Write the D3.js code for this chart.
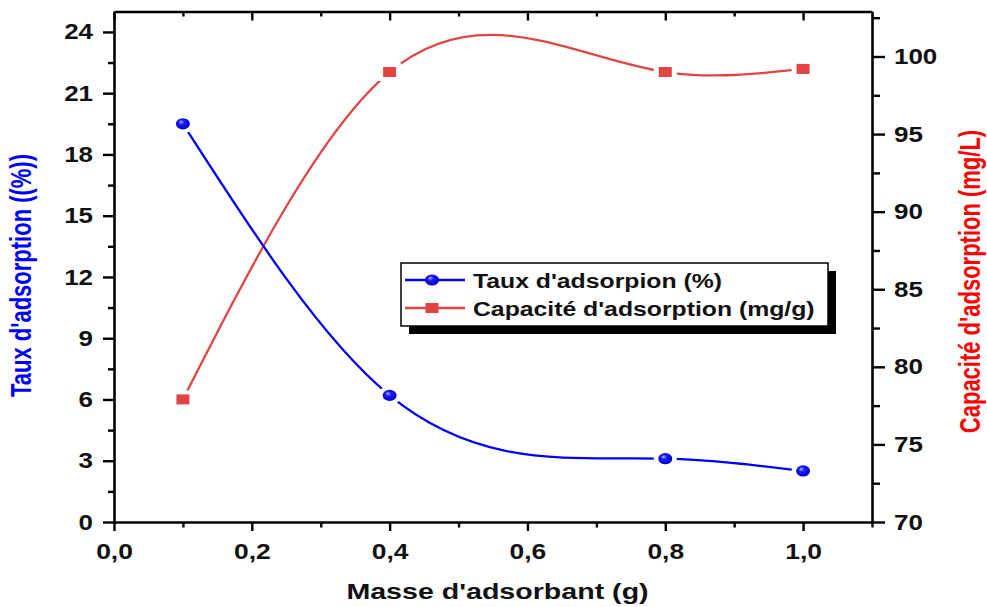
<!DOCTYPE html>
<html>
<head>
<meta charset="utf-8">
<script src="https://cdn.jsdelivr.net/npm/d3@7"></script>
<style>
  html, body { margin: 0; padding: 0; background: #fff; }
  svg { display: block; font-family: Arial, "Liberation Sans", sans-serif; font-weight: bold; }
</style>
</head>
<body>
<svg id="chart" width="987" height="607"></svg>
<script>
// Mass of adsorbent (g)
const masse = [0.1, 0.4, 0.8, 1.0];
// Adsorption rate (%) — left axis
const taux = [19.5, 6.2, 3.1, 2.5];
// Adsorption capacity — right axis
const capacite = [77.9, 99.0, 99.0, 99.2];

// Tick values
const xMajor = [0, 0.2, 0.4, 0.6, 0.8, 1.0];
const xMinor = [0.1, 0.3, 0.5, 0.7, 0.9, 1.1];
const leftMajor = [0, 3, 6, 9, 12, 15, 18, 21, 24];
const leftMinor = [1.5, 4.5, 7.5, 10.5, 13.5, 16.5, 19.5, 22.5];
const rightMajor = [70, 75, 80, 85, 90, 95, 100];
const rightMinor = [72.5, 77.5, 82.5, 87.5, 92.5, 97.5, 102.5];

// Labels
const xTitle = "Masse d'adsorbant (g)";
const leftTitle = "Taux d'adsorption ((%))";
const rightTitle = "Capacité d'adsorption (mg/L)";
const legendLabels = ["Taux d'adsorpion (%)", "Capacité d'adsorption (mg/g)"];

const BLUE = "#0000ff";
const RED = "#e24444";

const svg = d3.select("#chart");
const plot = { left: 114, right: 872, top: 11.5, bottom: 522 };

const x = d3.scaleLinear().domain([0, 1.1]).range([plot.left, plot.right]);
const yL = d3.scaleLinear().domain([0, 25]).range([plot.bottom, plot.top]);
const yR = d3.scaleLinear().domain([70, 102.9]).range([plot.bottom, plot.top]);

const frLocale = d3.formatLocale({ decimal: ",", thousands: " ", grouping: [3], currency: ["", " €"] });
const fmtX = frLocale.format(".1f");

// Natural cubic spline y(x), emitted as exact Bézier segments
function NaturalX(context) { this._context = context; }
NaturalX.prototype = {
  areaStart() { this._line = 0; },
  areaEnd() { this._line = NaN; },
  lineStart() { this._xs = []; this._ys = []; },
  point(px, py) { this._xs.push(+px); this._ys.push(+py); },
  lineEnd() {
    const X = this._xs, Y = this._ys, n = X.length, ctx = this._context;
    if (!n) return;
    ctx.moveTo(X[0], Y[0]);
    if (n === 1) return;
    const h = [];
    for (let i = 0; i < n - 1; i++) h.push(X[i + 1] - X[i]);
    const M = new Array(n).fill(0);
    if (n > 2) {
      const m = n - 2, a = [], b = [], c = [], r = [];
      for (let i = 1; i < n - 1; i++) {
        a.push(h[i - 1]); b.push(2 * (h[i - 1] + h[i])); c.push(h[i]);
        r.push(6 * ((Y[i + 1] - Y[i]) / h[i] - (Y[i] - Y[i - 1]) / h[i - 1]));
      }
      for (let i = 1; i < m; i++) {
        const w = a[i] / b[i - 1];
        b[i] -= w * c[i - 1];
        r[i] -= w * r[i - 1];
      }
      const sol = new Array(m);
      sol[m - 1] = r[m - 1] / b[m - 1];
      for (let i = m - 2; i >= 0; i--) sol[i] = (r[i] - c[i] * sol[i + 1]) / b[i];
      for (let i = 0; i < m; i++) M[i + 1] = sol[i];
    }
    for (let i = 0; i < n - 1; i++) {
      const hi = h[i], s = (Y[i + 1] - Y[i]) / hi;
      const d0 = s - hi * (2 * M[i] + M[i + 1]) / 6;
      const d1 = s + hi * (M[i] + 2 * M[i + 1]) / 6;
      ctx.bezierCurveTo(X[i] + hi / 3, Y[i] + d0 * hi / 3,
                        X[i + 1] - hi / 3, Y[i + 1] - d1 * hi / 3,
                        X[i + 1], Y[i + 1]);
    }
  }
};
const curveNaturalX = ctx => new NaturalX(ctx);

// Horizontally widened text around its anchor
function widen(sel, sx) {
  sel.each(function () {
    const t = d3.select(this);
    const tx = +t.attr("x") || 0, ty = +t.attr("y") || 0;
    t.attr("transform", `translate(${tx},${ty}) scale(${sx},1) translate(${-tx},${-ty})`);
  });
}

function styleAxis(g) {
  g.select(".domain").attr("stroke", "#000").attr("stroke-width", 2.6);
  g.selectAll(".tick line").attr("stroke", "#000").attr("stroke-width", 2.4);
  g.selectAll("text").attr("fill", "#111").style("font-size", "22px").style("font-weight", "bold")
    .style("font-family", "Arial, 'Liberation Sans', sans-serif");
}

// Bottom axis
const gx = svg.append("g").attr("transform", `translate(0,${plot.bottom})`);
gx.call(d3.axisBottom(x).tickValues(xMajor).tickFormat(fmtX).tickSize(9).tickPadding(12).tickSizeOuter(0));
styleAxis(gx);
widen(gx.selectAll("text"), 1.2);
const gxm = svg.append("g").attr("transform", `translate(0,${plot.bottom})`);
gxm.call(d3.axisBottom(x).tickValues(xMinor).tickFormat("").tickSize(5.5).tickSizeOuter(0));
styleAxis(gxm);
gxm.select(".domain").remove();

// Top frame with inward ticks
const gt = svg.append("g").attr("transform", `translate(0,${plot.top})`);
gt.call(d3.axisBottom(x).tickValues(xMajor).tickFormat("").tickSize(9).tickSizeOuter(0));
styleAxis(gt);
const gtm = svg.append("g").attr("transform", `translate(0,${plot.top})`);
gtm.call(d3.axisBottom(x).tickValues(xMinor.filter(v => v < 1.1)).tickFormat("").tickSize(5).tickSizeOuter(0));
styleAxis(gtm);
gtm.select(".domain").remove();

// Left axis
const gl = svg.append("g").attr("transform", `translate(${plot.left},0)`);
gl.call(d3.axisLeft(yL).tickValues(leftMajor).tickFormat(d3.format("d")).tickSize(11).tickPadding(10).tickSizeOuter(0));
styleAxis(gl);
widen(gl.selectAll("text"), 1.18);
const glm = svg.append("g").attr("transform", `translate(${plot.left},0)`);
glm.call(d3.axisLeft(yL).tickValues(leftMinor).tickFormat("").tickSize(6).tickSizeOuter(0));
styleAxis(glm);
glm.select(".domain").remove();

// Right axis
const gr = svg.append("g").attr("transform", `translate(${plot.right},0)`);
gr.call(d3.axisRight(yR).tickValues(rightMajor).tickFormat(d3.format("d")).tickSize(13).tickPadding(9).tickSizeOuter(0));
styleAxis(gr);
widen(gr.selectAll("text"), 1.18);
const grm = svg.append("g").attr("transform", `translate(${plot.right},0)`);
grm.call(d3.axisRight(yR).tickValues(rightMinor).tickFormat("").tickSize(8).tickSizeOuter(0));
styleAxis(grm);
grm.select(".domain").remove();

// Axis titles
svg.append("text")
  .attr("transform", `translate(${(plot.left + plot.right) / 2 + 4.5},599) scale(1.3,1)`)
  .attr("text-anchor", "middle").attr("fill", "#111").style("font-size", "22px")
  .text(xTitle);
svg.append("text")
  .attr("transform", "translate(30.5,275.5) scale(1.3,1) rotate(-90)")
  .attr("text-anchor", "middle").attr("fill", BLUE).style("font-size", "22px")
  .text(leftTitle);
svg.append("text")
  .attr("transform", "translate(980,281.5) scale(1.3,1) rotate(-90)")
  .attr("text-anchor", "middle").attr("fill", "#ff0000").style("font-size", "22px")
  .text(rightTitle);

// Ball gradient for the blue markers
const defs = svg.append("defs");
const grad = defs.append("radialGradient").attr("id", "ball")
  .attr("cx", "0.5").attr("cy", "0.5").attr("r", "0.6").attr("fx", "0.35").attr("fy", "0.3");
grad.append("stop").attr("offset", "0").attr("stop-color", "#b8b8ff");
grad.append("stop").attr("offset", "0.35").attr("stop-color", "#1a1aff");
grad.append("stop").attr("offset", "1").attr("stop-color", "#0000b0");

const tauxPts = masse.map((m, i) => [m, taux[i]]);
const capPts = masse.map((m, i) => [m, capacite[i]]);

// Curves
svg.append("path").datum(capPts)
  .attr("d", d3.line().x(d => x(d[0])).y(d => yR(d[1])).curve(curveNaturalX))
  .attr("fill", "none").attr("stroke", RED).attr("stroke-width", 2.3);
svg.append("path").datum(tauxPts)
  .attr("d", d3.line().x(d => x(d[0])).y(d => yL(d[1])).curve(curveNaturalX))
  .attr("fill", "none").attr("stroke", BLUE).attr("stroke-width", 2.3);

// Markers with white clearance around them
function ball(g, cx, cy) {
  g.append("ellipse").attr("cx", cx).attr("cy", cy).attr("rx", 11.5).attr("ry", 9.5).attr("fill", "#fff");
  g.append("ellipse").attr("cx", cx).attr("cy", cy).attr("rx", 7).attr("ry", 5.6).attr("fill", "url(#ball)");
}
function square(g, cx, cy) {
  g.append("rect").attr("x", cx - 11.5).attr("y", cy - 9).attr("width", 23).attr("height", 18).attr("fill", "#fff");
  g.append("rect").attr("x", cx - 6.5).attr("y", cy - 5).attr("width", 13).attr("height", 10).attr("fill", RED);
}
const mk = svg.append("g");
capPts.forEach(d => square(mk, x(d[0]), yR(d[1])));
tauxPts.forEach(d => ball(mk, x(d[0]), yL(d[1])));

// Legend
const lg = svg.append("g");
lg.append("rect").attr("x", 409).attr("y", 271).attr("width", 427).attr("height", 63).attr("fill", "#000");
lg.append("rect").attr("x", 401).attr("y", 263).attr("width", 427).attr("height", 63)
  .attr("fill", "#fff").attr("stroke", "#000").attr("stroke-width", 1.5);
const rows = [{ y: 280, color: BLUE, kind: "ball" }, { y: 308, color: RED, kind: "square" }];
rows.forEach((r, i) => {
  lg.append("line").attr("x1", 405).attr("x2", 465).attr("y1", r.y).attr("y2", r.y)
    .attr("stroke", r.color).attr("stroke-width", 2.3);
  if (r.kind === "ball") {
    lg.append("ellipse").attr("cx", 432).attr("cy", r.y).attr("rx", 7).attr("ry", 5.6).attr("fill", "url(#ball)");
  } else {
    lg.append("rect").attr("x", 425.5).attr("y", r.y - 5).attr("width", 13).attr("height", 10).attr("fill", RED);
  }
  const t = lg.append("text").attr("x", 473).attr("y", r.y + 8.5).attr("fill", "#111")
    .style("font-size", "21px").text(legendLabels[i]);
  widen(t, 1.18);
});
</script>
</body>
</html>
